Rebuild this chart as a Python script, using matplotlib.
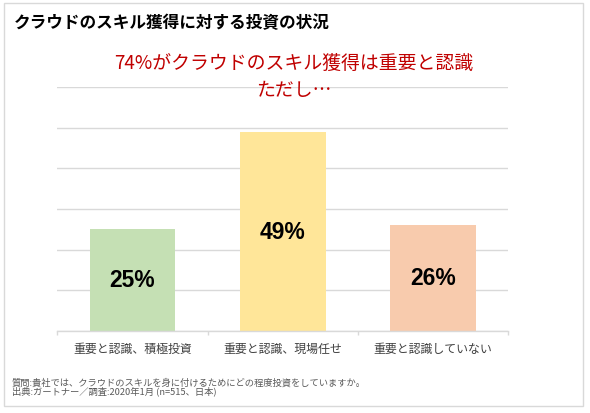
import matplotlib
matplotlib.use("Agg")
import matplotlib.pyplot as plt
from matplotlib.patches import Rectangle

plt.rcParams["font.family"] = ["Noto Sans CJK JP", "DejaVu Sans"]

# data
categories = ["重要と認識、積極投資", "重要と認識、現場任せ", "重要と認識していない"]
values = [25, 49, 26]
value_labels = ["25%", "49%", "26%"]
bar_colors = ["#C5E0B4", "#FFE699", "#F8CBAD"]
y_ticks = [0, 10, 20, 30, 40, 50, 60]

title = "クラウドのスキル獲得に対する投資の状況"
headline = ["74%がクラウドのスキル獲得は重要と認識", "ただし…"]
notes = ["質問:貴社では、クラウドのスキルを身に付けるためにどの程度投資をしていますか。",
         "出典:ガートナー／調査:2020年1月 (n=515、日本)"]

W, H = 590, 414
fig = plt.figure(figsize=(W / 100, H / 100), dpi=100)
ax = fig.add_axes([57.3 / W, 1 - 331.7 / H, 451 / W, 243.4 / H])

x = range(len(values))
ax.bar(x, values, width=0.57, color=bar_colors, zorder=2)
ax.set_xlim(-0.5, 2.5)
ax.set_ylim(0, 60)
ax.set_yticks(y_ticks)
ax.grid(axis="y", color="#D9D9D9", linewidth=1.0, zorder=0)
ax.tick_params(axis="y", length=0, labelleft=False)
ax.set_xticks(list(x))
ax.set_xticklabels(categories, fontsize=8.6, color="#404040")
ax.tick_params(axis="x", length=0, pad=8)
ax.set_xticks([-0.5, 0.5, 1.5, 2.5], minor=True)
ax.tick_params(axis="x", which="minor", length=3, color="#D9D9D9", width=1)
for s in ("top", "right", "left"):
    ax.spines[s].set_visible(False)
ax.spines["bottom"].set_color("#D9D9D9")
ax.spines["bottom"].set_linewidth(1.0)

for i, (v, lab) in enumerate(zip(values, value_labels)):
    ax.text(i, v / 2, lab, ha="center", va="center", fontsize=16.5,
            fontweight="bold", family="Liberation Sans", color="#000000",
            zorder=3)

fig.text(13.5 / W, 1 - 23.5 / H, title, fontsize=12, fontweight="bold",
         ha="left", va="center", color="#000000")
for k, (line, yy) in enumerate(zip(headline, [63.5, 90.5])):
    fig.text(294 / W, 1 - yy / H, line, fontsize=13.6, ha="center",
             va="center", color="#C00000", zorder=5)
for k, line in enumerate(notes):
    fig.text(11.5 / W, 1 - (382.7 + 9 * k) / H, line, fontsize=6.7,
             ha="left", va="center", color="#595959")

fig.patches.append(Rectangle((3.5 / W, 1 - 406.5 / H), 579 / W, 402.5 / H,
                             transform=fig.transFigure, fill=False,
                             edgecolor="#D9D9D9", linewidth=1.0))

fig.savefig("out.png", dpi=100)
